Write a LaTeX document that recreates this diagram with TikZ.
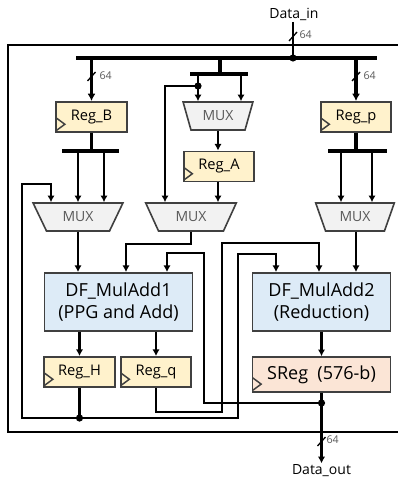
\documentclass[tikz,border=0pt]{standalone}
\usepackage{fontspec}
\setmainfont{Open Sans}
\usepackage{tikz}
\usetikzlibrary{shapes.geometric,arrows.meta,calc}
\definecolor{regfill}{HTML}{FFF2CC}
\definecolor{addfill}{HTML}{DDEBF7}
\definecolor{sregfill}{HTML}{FBE5D6}
\definecolor{muxfill}{HTML}{F2F2F2}
\definecolor{boxline}{HTML}{404040}
\definecolor{muxtext}{HTML}{595959}
\tikzset{
  wire/.style={line width=1.6pt, black},
  bus/.style={line width=2.6pt, black},
  arr/.style={wire, -{Latex[length=5pt,width=5.5pt]}},
  busarr/.style={bus, -{Latex[length=5.5pt,width=6pt]}},
  frame/.style={line width=1.5pt, black},
  regbox/.style={draw=boxline, fill=regfill, line width=1.4pt, minimum width=53pt,
                 minimum height=22.5pt, inner sep=0pt, font=\fontsize{11}{12}\selectfont,
                 path picture={\draw[line width=1.1pt]
                   ([yshift=1pt]path picture bounding box.south west) -- ++(6.5pt,4.8pt) -- ++(-6.5pt,4.8pt);}},
  addbox/.style={draw=boxline, fill=addfill, line width=1.4pt, minimum height=43.5pt,
                 inner sep=0pt, align=center, font=\fontsize{13.5}{17}\selectfont},
  muxnode/.style={trapezium, shape border rotate=180, trapezium stretches=true,
                  trapezium angle=57, draw=boxline, fill=muxfill, line width=1.2pt,
                  minimum width=67.5pt, minimum height=21pt, inner sep=0pt,
                  text=muxtext, font=\fontsize{10.5}{12}\selectfont},
  buscut/.style={line width=1pt},
  widthlbl/.style={font=\fontsize{8}{9}\selectfont, text=muxtext, anchor=west, inner sep=1pt},
  iolbl/.style={font=\fontsize{10.5}{12}\selectfont, inner sep=1pt},
  dotfill/.style={fill=black}
}

\begin{document}
\begin{tikzpicture}[x=0.75pt,y=-0.75pt]
  \useasboundingbox (0,0) rectangle (398,481);

  % outer frame (runs off the right edge)
  \draw[frame] (398,45) -- (8,45) -- (8,432) -- (398,432);

  % input side
  \node[iolbl] (dinlbl) at (294,14) {Data\_in};
  \node[regbox] (regB) at (91.5,117) {Reg\_B};
  \node[regbox] (regp) at (356,117) {Reg\_p};
  \node[muxnode, minimum width=52.5pt, trapezium angle=66] (muxA) at (218,116) {MUX};
  \node[regbox] (regA) at (219,166.5) {Reg\_A};

  % muxes
  \node[muxnode] (mux1) at (78,217) {MUX};
  \node[muxnode, minimum width=68pt, trapezium angle=59] (mux2) at (191,217) {MUX};
  \node[muxnode, minimum width=59pt, trapezium angle=63] (mux3) at (355,217) {MUX};

  % multiply-add stages
  \node[addbox, minimum width=111pt] (ma1) at (118.5,302) {DF\_MulAdd1\\(PPG and Add)};
  \node[addbox, minimum width=103.5pt] (ma2) at (321.5,302) {DF\_MulAdd2\\(Reduction)};
  \node[regbox] (regH) at (79.5,372) {Reg\_H};
  \node[regbox] (regq) at (156,372) {Reg\_q};
  \node[regbox, fill=sregfill, minimum width=103.5pt, minimum height=26pt,
        font=\fontsize{13.5}{15}\selectfont] (sreg) at (321.5,374.5) {SReg\ \ (576-b)};
  \node[iolbl] (doutlbl) at (321.5,471) {Data\_out};

  % junctions
  \coordinate (dtap) at (293,58);
  \coordinate (tapA) at (198,86);
  \coordinate (hdot) at (79.5,418);
  \coordinate (sdot) at (321.5,403);

  % Data_in bus
  \draw[wire] (dinlbl.south -| dtap) -- (dtap);
  \draw[bus] (76,58) -- (377,58);
  \draw[busarr] (regB.north |- dtap) -- (regB.north);
  \draw[busarr] (regp.north |- dtap) -- (regp.north);
  \draw[bus] (220,58) -- (220,74);
  \draw[bus] (190,74) -- (248,74);
  \draw[arr] (198,74) -- (198,0 |- muxA.north);
  \draw[arr] (241,74) -- (241,0 |- muxA.north);
  \draw[arr] (tapA) -| (165,0 |- mux2.north);
  \draw[arr] (muxA.south) -- (regA.north -| muxA.south);
  \draw[arr] (regA.south -| 218,0) -- (218,0 |- mux2.north);

  % width marks
  \draw[buscut] (289,41) -- (297,32);
  \node[widthlbl] (w1) at (298,35) {64};
  \draw[buscut] (87.5,81) -- (95.5,72);
  \node[widthlbl] (w2) at (98,76) {64};
  \draw[buscut] (352,81) -- (360,72);
  \node[widthlbl] (w3) at (362,76) {64};
  \draw[buscut] (317.5,446) -- (325.5,437);
  \node[widthlbl] (w4) at (325,440) {64};

  % register fan-out to muxes
  \draw[bus] (regB.south) -- (regB.south |- 0,151);
  \draw[bus] (62,151) -- (119,151);
  \draw[arr] (78,151) -- (78,0 |- mux1.north);
  \draw[arr] (104,151) -- (104,0 |- mux1.north);
  \draw[bus] (regp.south) -- (regp.south |- 0,151);
  \draw[bus] (328,151) -- (387,151);
  \draw[arr] (341,151) -- (341,0 |- mux3.north);
  \draw[arr] (372,151) -- (372,0 |- mux3.north);

  % mux outputs
  \draw[arr] (mux1.south) -- (mux1.south |- ma1.north);
  \draw[arr] (mux2.south) -- ++(0,12) -| (126,0 |- ma1.north);
  \draw[arr] (mux3.south -| 356,0) -- (356,0 |- ma2.north);

  % stage outputs
  \draw[arr] (ma1.south -| regH.north) -- (regH.north);
  \draw[arr] (ma1.south -| regq.north) -- (regq.north);
  \draw[arr] (ma2.south) -- (sreg.north);
  \draw[arr] (sreg.south) -- (doutlbl.north);

  % feedback paths
  \draw[wire] (regH.south) -- (hdot);
  \draw[arr] (hdot) -| (22,184) -| (51,0 |- mux1.north);
  \draw[arr] (hdot) -| (238,254) -| (276,0 |- ma2.north);
  \draw[arr] (regq.south) |- (222,412) -- (222,243) -| (319,0 |- ma2.north);
  \draw[arr] (sdot) -| (204,253) -| (167,0 |- ma1.north);

  \fill[dotfill] (dtap) circle (2.7pt);
  \fill[dotfill] (tapA) circle (2.7pt);
  \fill[dotfill] (hdot) circle (2.7pt);
  \fill[dotfill] (sdot) circle (2.7pt);
\end{tikzpicture}
\end{document}
